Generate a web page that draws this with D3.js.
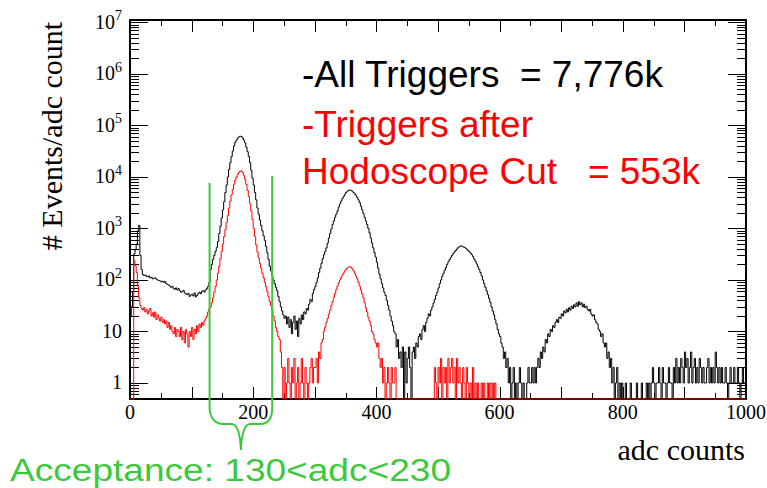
<!DOCTYPE html>
<html>
<head>
<meta charset="utf-8">
<script src="https://cdn.jsdelivr.net/npm/d3@7"></script>
<style>
  html, body { margin: 0; padding: 0; background: #fff; }
  svg { display: block; }
</style>
</head>
<body>
<svg id="chart" width="767" height="488"></svg>
<script>
// ADC spectrum in 2-count bins starting at adc = 0 (events per adc count)
const binWidth = 2;
const allTriggers = [
  20, 30, 60, 320, 380, 500, 900, 1150, 300, 160,          // adc 0-19
  128, 122, 125, 118, 115, 120, 110, 112, 105, 108,
  110, 104, 100, 98, 96, 92, 95, 90, 94, 85,
  82, 80, 76, 72, 75, 68, 66, 70, 64, 68,
  62, 58, 60, 63, 56, 54, 52, 55, 48, 51,
  53, 49, 56, 47, 50, 55, 58, 54, 60, 62,                 // adc 100-119
  58, 64, 68, 75, 90, 160, 200, 250, 300, 360,
  430, 560, 800, 1100, 1600, 2300, 3300, 5000, 7000, 10000,
  14000, 19000, 25000, 32000, 40000, 47000, 52000, 57000, 60000, 62000,
  61000, 57000, 52000, 46000, 38000, 31000, 25000, 19000, 13500, 9500,
  7000, 5000, 3600, 2500, 1900, 1450, 1150, 900, 720, 590, // adc 200-219
  450, 340, 250, 185, 150, 120, 100, 85, 72, 62,
  48, 38, 30, 25, 21, 18, 20, 14, 19, 12,
  17, 9, 15, 20, 11, 16, 8, 18, 14, 21,
  17, 24, 22, 28, 26, 34, 42, 38, 55, 65,
  75, 90, 110, 140, 170, 210, 260, 310, 360, 420,         // adc 300-319
  520, 650, 800, 980, 1200, 1400, 1650, 1900, 2200, 2600,
  3000, 3400, 3800, 4200, 4600, 5000, 5300, 5500, 5600, 5500,
  5300, 5000, 4700, 4400, 4000, 3600, 3200, 2700, 2300, 1950,
  1650, 1400, 1200, 1000, 820, 650, 520, 420, 340, 280,
  220, 170, 130, 105, 85, 70, 58, 50, 40, 32,             // adc 400-419
  26, 20, 16, 13, 10, 9, 5, 7, 3, 4,
  2, 5, 0, 4, 1, 3, 5, 2, 0, 4,
  5, 3, 6, 5, 8, 9, 7, 11, 13, 10,
  15, 18, 22, 20, 26, 30, 36, 42, 50, 58,
  70, 85, 100, 118, 135, 155, 175, 200, 225, 250,         // adc 500-519
  275, 300, 325, 350, 375, 400, 425, 445, 460, 455,
  440, 430, 415, 395, 375, 355, 335, 310, 285, 255,
  230, 205, 180, 160, 140, 120, 100, 85, 72, 62,
  52, 44, 37, 30, 25, 21, 17, 14, 11, 9,
  8, 6, 5, 3, 4, 2, 3, 1, 2, 0,                           // adc 600-619
  1, 2, 0, 1, 0, 1, 2, 1, 0, 1,
  0, 0, 1, 2, 1, 1, 2, 1, 2, 1,
  2, 3, 2, 4, 3, 5, 4, 7, 6, 9,
  8, 11, 10, 13, 12, 15, 17, 15, 19, 18,
  22, 20, 25, 23, 27, 24, 29, 26, 31, 28,                 // adc 700-719
  33, 30, 36, 31, 38, 33, 36, 30, 34, 29,
  31, 27, 25, 27, 22, 20, 21, 17, 15, 14,
  11, 10, 8, 9, 6, 5, 6, 3, 4, 2,
  3, 1, 2, 0, 1, 2, 0, 1, 0, 1,
  0, 0, 1, 0, 0, 0, 1, 0, 0, 0,                           // adc 800-819
  0, 1, 0, 0, 0, 1, 0, 0, 0, 1,
  0, 1, 0, 1, 2, 1, 0, 1, 1, 2,
  1, 0, 2, 1, 1, 0, 1, 2, 1, 1,
  0, 2, 1, 3, 1, 2, 1, 3, 2, 1,
  4, 2, 3, 1, 2, 4, 1, 2, 3, 1,                           // adc 900-919
  2, 1, 3, 2, 1, 2, 1, 1, 2, 3,
  1, 2, 1, 2, 1, 4, 2, 1, 2, 1,
  2, 1, 1, 2, 1, 0, 1, 2, 1, 1,
  2, 1, 1, 2, 1, 0, 1, 2, 1, 1
];
const afterHodoscopeCut = [
  0, 0, 0, 240, 190, 140, 80, 45, 32, 28,                 // adc 0-19
  26, 29, 24, 27, 22, 25, 28, 20, 23, 19,
  24, 17, 21, 18, 16, 19, 15, 17, 14, 16,
  12, 15, 11, 13, 10, 9, 12, 8, 11, 10,
  8, 12, 7, 10, 6, 11, 9, 5, 10, 8,
  12, 7, 11, 9, 13, 10, 14, 12, 15, 13,                   // adc 100-119
  16, 18, 20, 24, 28, 30, 36, 45, 58, 75,
  100, 135, 185, 260, 360, 500, 700, 950, 1300, 1800,
  2500, 3400, 4500, 5800, 7200, 8600, 10000, 11300, 12300, 13000,
  13100, 12300, 10800, 9000, 7200, 5500, 4200, 3100, 2200, 1500,
  1000, 700, 480, 350, 270, 210, 170, 135, 110, 90,       // adc 200-219
  75, 60, 48, 38, 32, 26, 20, 16, 12, 10,
  8, 7, 4, 2, 0, 2, 0, 1, 3, 1,
  0, 2, 1, 3, 0, 1, 2, 0, 1, 3,
  1, 0, 2, 1, 0, 1, 2, 3, 1, 2,
  2, 3, 1, 4, 3, 6, 7, 10, 12, 15,                        // adc 300-319
  18, 22, 26, 32, 38, 46, 55, 65, 76, 88,
  100, 112, 125, 138, 150, 162, 172, 178, 182, 176,
  165, 150, 135, 120, 105, 90, 76, 64, 54, 45,
  36, 29, 24, 19, 16, 13, 10, 9, 7, 6,
  5, 6, 3, 2, 3, 1, 2, 0, 1, 2,                           // adc 400-419
  1, 0, 2, 1, 1, 2, 0, 0, 0, 0,
  0, 0, 0, 0, 0, 0, 0, 0, 0, 0,
  0, 0, 0, 0, 0, 0, 0, 0, 0, 0,
  0, 0, 0, 0, 0, 0, 0, 2, 1, 0,
  2, 1, 3, 0, 2, 1, 2, 0, 3, 1,                           // adc 500-519
  2, 3, 1, 2, 0, 3, 1, 2, 1, 0,
  2, 1, 0, 2, 1, 0, 1, 0, 2, 0,
  1, 0, 1, 0, 0, 1, 0, 1, 0, 0,
  1, 0, 1, 0, 1, 0, 1, 0, 0, 0,
  0, 0, 0, 0, 0, 0, 0, 0, 0, 0,                           // adc 600-619
  0, 0, 0, 0, 0, 0, 0, 0, 0, 0,
  0, 0, 0, 0, 0, 0, 0, 0, 0, 0,
  0, 0, 0, 0, 0, 0, 0, 0, 0, 0,
  0, 0, 0, 0, 0, 0, 0, 0, 0, 0,
  0, 0, 0, 0, 0, 0, 0, 0, 0, 0,                           // adc 700-719
  0, 0, 0, 0, 0, 0, 0, 0, 0, 0,
  0, 0, 0, 0, 0, 0, 0, 0, 0, 0,
  0, 0, 0, 0, 0, 0, 0, 0, 0, 0,
  0, 0, 0, 0, 0, 0, 0, 0, 0, 0,
  0, 0, 0, 0, 0, 0, 0, 0, 0, 0,                           // adc 800-819
  0, 0, 0, 0, 0, 0, 0, 0, 0, 0,
  0, 0, 0, 0, 0, 0, 0, 0, 0, 0,
  0, 0, 0, 0, 0, 0, 0, 0, 0, 0,
  0, 0, 0, 0, 0, 0, 0, 0, 0, 0,
  0, 0, 0, 0, 0, 0, 0, 0, 0, 0,                           // adc 900-919
  0, 0, 0, 0, 0, 0, 0, 0, 0, 0,
  0, 0, 0, 0, 0, 0, 0, 0, 0, 0,
  0, 0, 0, 0, 0, 0, 0, 0, 0, 0,
  0, 0, 0, 0, 0, 0, 0, 0, 0, 0
];
const xTickLabels = [0, 200, 400, 600, 800, 1000];
const yDecades = [0, 1, 2, 3, 4, 5, 6, 7];
const legendLines = [
  { text: "-All Triggers  = 7,776k", color: "#000000" },
  { text: "-Triggers after", color: "#ff0000" },
  { text: "Hodoscope Cut   = 553k", color: "#ff0000" }
];
const acceptanceCut = [130, 230];
const acceptanceText = "Acceptance: 130<adc<230";

const svg = d3.select("#chart");
const frame = { left: 130, right: 746, top: 20, bottom: 399 };

const x = d3.scaleLinear().domain([0, 1000]).range([frame.left, frame.right]);
const y = d3.scaleLog().domain([0.489, 1.118e7]).range([frame.bottom, frame.top]);
const yBottom = y.domain()[0];

// clip for the histograms
svg.append("defs").append("clipPath").attr("id", "plotClip")
  .append("rect")
  .attr("x", frame.left).attr("y", frame.top)
  .attr("width", frame.right - frame.left)
  .attr("height", frame.bottom - frame.top + 1);

// ---- axis ticks (inward, on all four sides) ----
const tickG = svg.append("g").attr("stroke", "#000").attr("stroke-width", 1);

// x ticks: every 50, longer at multiples of 100
d3.range(0, 1001, 50).forEach(v => {
  const len = v % 100 === 0 ? 12 : 6;
  const px = Math.round(x(v)) + 0.5;
  tickG.append("line").attr("x1", px).attr("x2", px)
    .attr("y1", frame.bottom).attr("y2", frame.bottom - len);
  tickG.append("line").attr("x1", px).attr("x2", px)
    .attr("y1", frame.top).attr("y2", frame.top + len);
});

// y ticks: decades long, 2..9 short
const yTicks = [];
for (let k = -1; k <= 7; k++) {
  for (let m = 1; m <= 9; m++) {
    const v = m * Math.pow(10, k);
    if (v >= yBottom && v <= y.domain()[1]) yTicks.push({ v, major: m === 1 });
  }
}
yTicks.forEach(t => {
  const len = t.major ? 18 : 9;
  const py = Math.round(y(t.v)) + 0.5;
  tickG.append("line").attr("x1", frame.left).attr("x2", frame.left + len)
    .attr("y1", py).attr("y2", py);
  tickG.append("line").attr("x1", frame.right).attr("x2", frame.right - len)
    .attr("y1", py).attr("y2", py);
});

// frame
svg.append("rect")
  .attr("x", frame.left).attr("y", frame.top)
  .attr("width", frame.right - frame.left).attr("height", frame.bottom - frame.top)
  .attr("fill", "none").attr("stroke", "#000").attr("stroke-width", 2);

// ---- histograms (step lines; empty bins drop to the lower edge) ----
function stepPoints(values) {
  const pts = values.map((v, i) => [x(i * binWidth), y(v > 0 ? v : yBottom)]);
  const last = values[values.length - 1];
  pts.push([x(values.length * binWidth), y(last > 0 ? last : yBottom)]);
  return pts;
}
const stepLine = d3.line().curve(d3.curveStepAfter);
const plot = svg.append("g").attr("clip-path", "url(#plotClip)");
plot.append("path").attr("d", stepLine(stepPoints(allTriggers)))
  .attr("fill", "none").attr("stroke", "#000").attr("stroke-width", 1);
plot.append("path").attr("d", stepLine(stepPoints(afterHodoscopeCut)))
  .attr("fill", "none").attr("stroke", "#ff0000").attr("stroke-width", 1);

// ---- tick labels ----
const serif = "'Liberation Serif', 'Times New Roman', serif";
svg.append("g").selectAll("text").data(xTickLabels).join("text")
  .attr("x", d => x(d)).attr("y", 419)
  .attr("text-anchor", "middle")
  .attr("font-family", serif).attr("font-size", 20)
  .text(d => d);

const yl = svg.append("g").selectAll("text").data(yDecades).join("text")
  .attr("x", 122).attr("y", d => y(Math.pow(10, d)) + 6.5)
  .attr("text-anchor", "end")
  .attr("font-family", serif).attr("font-size", 20);
yl.each(function(d) {
  const t = d3.select(this);
  if (d === 0) t.text("1");
  else if (d === 1) t.text("10");
  else {
    t.append("tspan").text("10");
    t.append("tspan").attr("font-size", 14).attr("dy", -8.5).text(d);
  }
});

// axis titles
svg.append("text")
  .attr("transform", "translate(62,136) rotate(-90)")
  .attr("text-anchor", "middle")
  .attr("font-family", serif).attr("font-size", 30)
  .text("# Events/adc count");
svg.append("text")
  .attr("x", 745).attr("y", 460)
  .attr("text-anchor", "end")
  .attr("font-family", serif).attr("font-size", 30)
  .text("adc counts");

// ---- legend text ----
const sans = "'Liberation Sans', Arial, sans-serif";
svg.append("g").selectAll("text").data(legendLines).join("text")
  .attr("x", 302).attr("y", (d, i) => [87, 137, 184][i])
  .attr("fill", d => d.color)
  .attr("font-family", sans).attr("font-size", 37)
  .style("white-space", "pre")
  .text(d => d.text);

// ---- acceptance window marker and brace ----
const green = "#3dc83d";
const xa = x(acceptanceCut[0]) - 0.5, xb = x(acceptanceCut[1]) + 0.5;
const xm = (xa + xb) / 2;
const brace = d3.path();
brace.moveTo(xa, 183);
brace.lineTo(xa, 408);
brace.quadraticCurveTo(xa + 1, 424, xa + 14, 424);
brace.lineTo(xm - 9, 424);
brace.quadraticCurveTo(xm - 1, 425, xm, 450);
brace.moveTo(xm, 450);
brace.quadraticCurveTo(xm + 1, 425, xm + 9, 424);
brace.lineTo(xb - 12, 424);
brace.quadraticCurveTo(xb, 424, xb, 408);
brace.lineTo(xb, 176);
svg.append("path").attr("d", brace.toString())
  .attr("fill", "none").attr("stroke", green).attr("stroke-width", 2);

svg.append("text")
  .attr("x", 10).attr("y", 481)
  .attr("fill", green)
  .attr("font-family", sans).attr("font-size", 31)
  .attr("textLength", 441).attr("lengthAdjust", "spacingAndGlyphs")
  .text(acceptanceText);
</script>
</body>
</html>
